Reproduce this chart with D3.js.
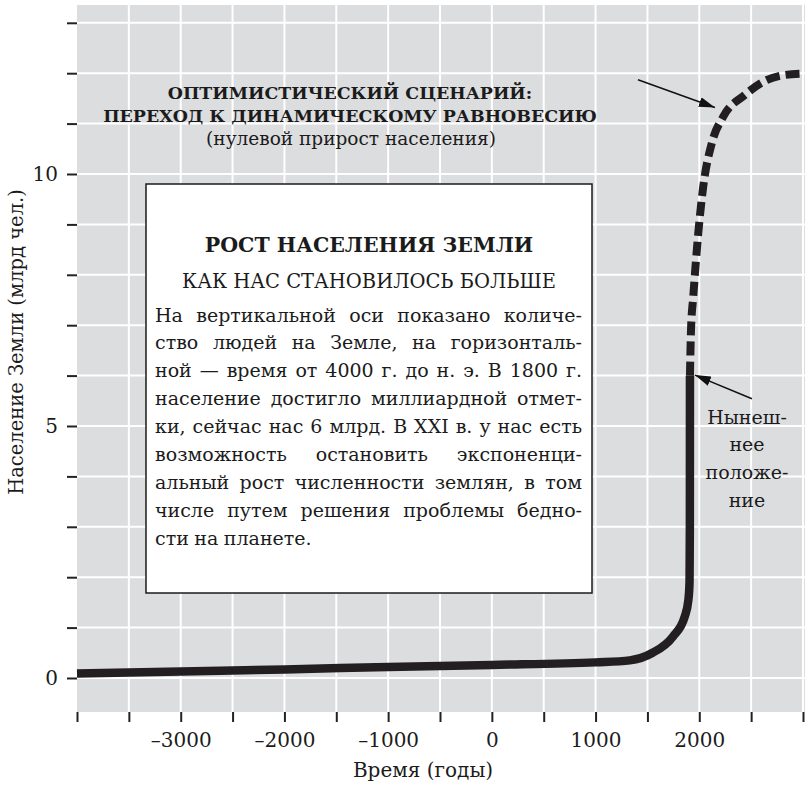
<!DOCTYPE html>
<html>
<head>
<meta charset="utf-8">
<script src="https://cdn.jsdelivr.net/npm/d3@7"></script>
<style>
  body { margin: 0; background: #fff; }
  svg { display: block; }
  text { font-family: "DejaVu Serif", serif; fill: #1b1b1b; }
</style>
</head>
<body>
<svg id="chart" width="805" height="786"></svg>
<script>
// население, млрд чел. (сплошная линия — история)
const histYears = [-4000, -3000, -2000, -1000, 0, 1000, 1330, 1550, 1745, 1860, 1895, 1906, 1909, 1910];
const histPop   = [0.09, 0.13, 0.17, 0.22, 0.26, 0.31, 0.35, 0.5, 0.82, 1.22, 1.55, 1.9, 3.0, 6.0];

// оптимистический сценарий (пунктир)
const scenYears = [1910, 1920, 1942, 1990, 2038, 2119, 2231, 2440, 2617, 2810, 3000];
const scenPop   = [6.0, 6.9, 7.57, 8.82, 9.75, 10.6, 11.14, 11.57, 11.83, 11.96, 11.99];

const xTickValues = d3.range(-4000, 3001, 500);
const xLabelValues = [-3000, -2000, -1000, 0, 1000, 2000];
const yTickValues = d3.range(0, 14);
const yLabelValues = [0, 5, 10];

const scenarioTitle = ["ОПТИМИСТИЧЕСКИЙ СЦЕНАРИЙ:", "ПЕРЕХОД К ДИНАМИЧЕСКОМУ РАВНОВЕСИЮ"];
const scenarioSub = "(нулевой прирост населения)";
const boxTitle = "РОСТ НАСЕЛЕНИЯ ЗЕМЛИ";
const boxSub = "КАК НАС СТАНОВИЛОСЬ БОЛЬШЕ";
const boxLines = [
  "На вертикальной оси показано количе-",
  "ство людей на Земле, на горизонталь-",
  "ной — время от 4000 г. до н. э. В 1800 г.",
  "население достигло миллиардной отмет-",
  "ки, сейчас нас 6 млрд. В XXI в. у нас есть",
  "возможность остановить экспоненци-",
  "альный рост численности землян, в том",
  "числе путем решения проблемы бедно-",
  "сти на планете."
];
const nowLabel = ["Нынеш-", "нее", "положе-", "ние"];

const svg = d3.select("#chart");
const W = 805, H = 786;
const plot = { left: 77, right: 805, top: 5, bottom: 712 };

const x = d3.scaleLinear().domain([-4000, 3000]).range([77, 803]);
const y = d3.scaleLinear().domain([0, 13]).range([678, 22.8]);

// фон
svg.append("rect")
  .attr("x", plot.left).attr("y", plot.top)
  .attr("width", plot.right - plot.left).attr("height", plot.bottom - plot.top)
  .attr("fill", "#dcdddf");

// сетка
svg.append("g").selectAll("line")
  .data(xTickValues.filter(d => d > -4000))
  .enter().append("line")
  .attr("x1", d => x(d)).attr("x2", d => x(d))
  .attr("y1", plot.top).attr("y2", plot.bottom)
  .attr("stroke", "#fff").attr("stroke-width", 2);

svg.append("g").selectAll("line")
  .data(yTickValues)
  .enter().append("line")
  .attr("x1", plot.left).attr("x2", plot.right)
  .attr("y1", d => y(d)).attr("y2", d => y(d))
  .attr("stroke", "#fff").attr("stroke-width", 2);

// оси
const fmt = d => (d < 0 ? "–" + Math.abs(d) : String(d));

const xAxis = svg.append("g")
  .attr("transform", `translate(0,${plot.bottom})`)
  .call(d3.axisBottom(x).tickValues(xTickValues).tickSize(10).tickSizeOuter(0).tickPadding(11)
    .tickFormat(d => xLabelValues.includes(d) ? fmt(d) : ""));
xAxis.select(".domain").remove();
xAxis.selectAll("line").attr("stroke", "#222").attr("stroke-width", 2);
xAxis.selectAll("text").attr("font-size", 20).attr("font-family", "DejaVu Serif").attr("fill", "#1b1b1b");

const yAxis = svg.append("g")
  .attr("transform", `translate(${plot.left},0)`)
  .call(d3.axisLeft(y).tickValues(yTickValues).tickSize(10).tickSizeOuter(0).tickPadding(9)
    .tickFormat(d => yLabelValues.includes(d) ? String(d) : ""));
yAxis.select(".domain").remove();
yAxis.selectAll("line").attr("stroke", "#222").attr("stroke-width", 2);
yAxis.selectAll("text").attr("font-size", 20).attr("font-family", "DejaVu Serif").attr("fill", "#1b1b1b");

svg.append("text")
  .attr("x", 423).attr("y", 777)
  .attr("text-anchor", "middle").attr("font-size", 20)
  .text("Время (годы)");

svg.append("text")
  .attr("transform", "translate(23,342) rotate(-90)")
  .attr("text-anchor", "middle").attr("font-size", 19.5)
  .text("Население Земли (млрд чел.)");

// белая рамка с пояснением
const box = { x0: 146, y0: 184, x1: 592, y1: 593 };
svg.append("rect")
  .attr("x", box.x0).attr("y", box.y0)
  .attr("width", box.x1 - box.x0).attr("height", box.y1 - box.y0)
  .attr("fill", "#fff").attr("stroke", "#1b1b1b").attr("stroke-width", 1.5);

const cx = (box.x0 + box.x1) / 2;
svg.append("text").attr("x", cx).attr("y", 252)
  .attr("text-anchor", "middle").attr("font-size", 20.5).attr("font-weight", "bold")
  .text(boxTitle);
svg.append("text").attr("x", cx).attr("y", 288)
  .attr("text-anchor", "middle").attr("font-size", 19.5)
  .text(boxSub);

// выключка по ширине
const bodyG = svg.append("g");
const tx0 = 155, tx1 = 582, bodySize = 19;
boxLines.forEach((line, li) => {
  const yy = 321.5 + li * 27.9;
  const words = line.split(" ");
  const nodes = words.map(w => bodyG.append("text").attr("y", yy).attr("font-size", bodySize).text(w));
  let widths = nodes.map(n => n.node().getComputedTextLength());
  const last = li === boxLines.length - 1;
  const minGap = 3.5;
  const natural = d3.sum(widths) + minGap * (words.length - 1);
  if (!last && natural > tx1 - tx0) {
    const k = (tx1 - tx0 - minGap * (words.length - 1)) / d3.sum(widths);
    nodes.forEach(n => n.attr("font-size", bodySize * k));
    widths = widths.map(w => w * k);
  }
  const gap = last ? 5.5 : (tx1 - tx0 - d3.sum(widths)) / (words.length - 1);
  let px = tx0;
  nodes.forEach((n, i) => { n.attr("x", px); px += widths[i] + gap; });
});

// кривые
const line = d3.line().x(d => x(d[0])).y(d => y(d[1])).curve(d3.curveMonotoneX);

svg.append("path")
  .datum(scenYears.map((d, i) => [d, scenPop[i]]))
  .attr("d", line)
  .attr("fill", "none").attr("stroke", "#231f20").attr("stroke-width", 8)
  .attr("stroke-dasharray", "14,6");

svg.append("path")
  .datum(histYears.map((d, i) => [d, histPop[i]]))
  .attr("d", line)
  .attr("fill", "none").attr("stroke", "#231f20").attr("stroke-width", 8.5)
  .attr("stroke-linejoin", "round");

// подписи сценария
scenarioTitle.forEach((t, i) => {
  svg.append("text").attr("x", 350).attr("y", 99 + i * 23)
    .attr("text-anchor", "middle").attr("font-size", 17.4).attr("font-weight", "bold")
    .text(t);
});
svg.append("text").attr("x", 351).attr("y", 145)
  .attr("text-anchor", "middle").attr("font-size", 18.5)
  .text(scenarioSub);

nowLabel.forEach((t, i) => {
  svg.append("text").attr("x", 747).attr("y", 423.5 + i * 27.8)
    .attr("text-anchor", "middle").attr("font-size", 19)
    .text(t);
});

// стрелки
svg.append("defs").append("marker")
  .attr("id", "arrowhead")
  .attr("viewBox", "0 -5 16 10")
  .attr("refX", 16).attr("refY", 0)
  .attr("markerUnits", "userSpaceOnUse")
  .attr("markerWidth", 16).attr("markerHeight", 10)
  .attr("orient", "auto")
  .append("path")
  .attr("d", "M0,-5L16,0L0,5Z")
  .attr("fill", "#111");

const arrows = [
  { from: [1409, 11.87], to: [2151, 11.32] },
  { from: [2508, 5.54], to: [1958, 6.01] }
];
svg.append("g").selectAll("line")
  .data(arrows)
  .enter().append("line")
  .attr("x1", d => x(d.from[0])).attr("y1", d => y(d.from[1]))
  .attr("x2", d => x(d.to[0])).attr("y2", d => y(d.to[1]))
  .attr("stroke", "#111").attr("stroke-width", 1.5)
  .attr("marker-end", "url(#arrowhead)");
</script>
</body>
</html>
